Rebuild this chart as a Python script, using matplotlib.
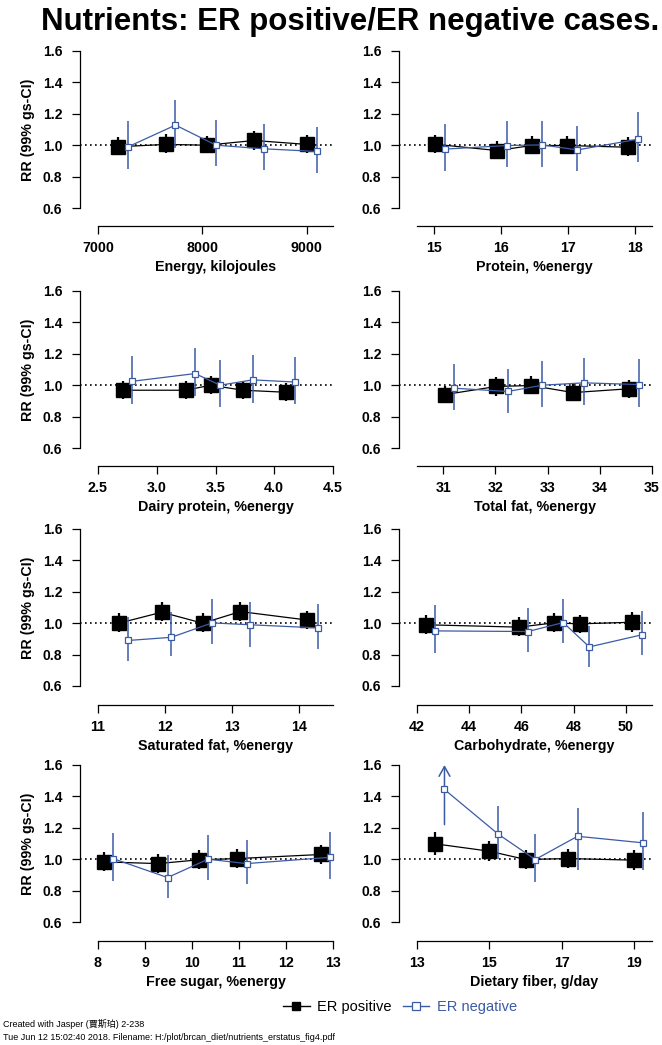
"""
Nutrients and breast cancer risk by ER status: RR with 99% gs-CI per fifth.
"""
import numpy as np
import matplotlib
matplotlib.use("Agg")
import matplotlib.pyplot as plt
from matplotlib.lines import Line2D

plt.rcParams["font.family"] = ["Liberation Sans", "DejaVu Sans"]

BLUE = "#3B5BA5"

# ── Data ─────────────────────────────────────────────────────────────────────
# ER positive: x, RR, lower, upper ; ER negative: same
energy_x_pos = [7192, 7650, 8040, 8494, 9000]
energy_rr_pos = [0.99, 1.005, 1.00, 1.03, 1.005]
energy_lo_pos = [0.94, 0.95, 0.95, 0.97, 0.95]
energy_hi_pos = [1.05, 1.07, 1.06, 1.09, 1.065]
energy_x_neg = [7288, 7742, 8130, 8590, 9096]
energy_rr_neg = [0.99, 1.128, 1.00, 0.977, 0.96]
energy_lo_neg = [0.85, 0.98, 0.866, 0.84, 0.823]
energy_hi_neg = [1.155, 1.29, 1.16, 1.134, 1.117]

protein_x_pos = [15.02, 15.94, 16.46, 16.99, 17.90]
protein_rr_pos = [1.006, 0.966, 0.998, 0.998, 0.987]
protein_lo_pos = [0.949, 0.913, 0.945, 0.945, 0.934]
protein_hi_pos = [1.068, 1.025, 1.057, 1.057, 1.05]
protein_x_neg = [15.16, 16.09, 16.61, 17.14, 18.04]
protein_rr_neg = [0.975, 0.998, 1.002, 0.97, 1.038]
protein_lo_neg = [0.834, 0.86, 0.864, 0.834, 0.89]
protein_hi_neg = [1.136, 1.157, 1.157, 1.12, 1.21]

dairy_x_pos = [2.714, 3.246, 3.46, 3.734, 4.10]
dairy_rr_pos = [0.968, 0.968, 1.00, 0.968, 0.955]
dairy_lo_pos = [0.915, 0.91, 0.947, 0.915, 0.90]
dairy_hi_pos = [1.028, 1.028, 1.06, 1.028, 1.015]
dairy_x_neg = [2.793, 3.326, 3.54, 3.816, 4.18]
dairy_rr_neg = [1.025, 1.074, 1.00, 1.034, 1.02]
dairy_lo_neg = [0.883, 0.932, 0.86, 0.887, 0.88]
dairy_hi_neg = [1.185, 1.236, 1.16, 1.19, 1.18]

fat_x_pos = [31.03, 32.02, 32.69, 33.49, 34.55]
fat_rr_pos = [0.94, 0.992, 0.998, 0.953, 0.977]
fat_lo_pos = [0.885, 0.934, 0.945, 0.898, 0.92]
fat_hi_pos = [0.998, 1.05, 1.057, 1.013, 1.036]
fat_x_neg = [31.2, 32.24, 32.9, 33.7, 34.76]
fat_rr_neg = [0.981, 0.96, 1.00, 1.015, 1.004]
fat_lo_neg = [0.845, 0.824, 0.86, 0.877, 0.86]
fat_hi_neg = [1.136, 1.104, 1.153, 1.174, 1.164]

satfat_x_pos = [11.31, 11.95, 12.56, 13.12, 14.12]
satfat_rr_pos = [1.00, 1.07, 1.00, 1.074, 1.02]
satfat_lo_pos = [0.943, 1.011, 0.943, 1.017, 0.964]
satfat_hi_pos = [1.062, 1.132, 1.062, 1.138, 1.08]
satfat_x_neg = [11.45, 12.09, 12.70, 13.27, 14.27]
satfat_rr_neg = [0.89, 0.91, 1.002, 0.99, 0.97]
satfat_lo_neg = [0.762, 0.788, 0.868, 0.85, 0.834]
satfat_hi_neg = [1.042, 1.07, 1.155, 1.138, 1.12]

carb_x_pos = [42.34, 45.91, 47.24, 48.23, 50.23]
carb_rr_pos = [0.99, 0.975, 1.002, 0.996, 1.006]
carb_lo_pos = [0.93, 0.919, 0.943, 0.936, 0.947]
carb_hi_pos = [1.053, 1.038, 1.062, 1.053, 1.07]
carb_x_neg = [42.69, 46.25, 47.6, 48.6, 50.61]
carb_rr_neg = [0.951, 0.947, 1.004, 0.849, 0.926]
carb_lo_neg = [0.809, 0.815, 0.873, 0.724, 0.798]
carb_hi_neg = [1.117, 1.096, 1.155, 0.985, 1.079]

sugar_x_pos = [8.12, 9.28, 10.14, 10.96, 12.74]
sugar_rr_pos = [0.983, 0.972, 0.996, 1.004, 1.03]
sugar_lo_pos = [0.926, 0.915, 0.94, 0.947, 0.972]
sugar_hi_pos = [1.047, 1.032, 1.057, 1.064, 1.09]
sugar_x_neg = [8.32, 9.48, 10.34, 11.16, 12.94]
sugar_rr_neg = [1.004, 0.883, 1.00, 0.972, 1.012]
sugar_lo_neg = [0.862, 0.756, 0.866, 0.841, 0.873]
sugar_hi_neg = [1.168, 1.025, 1.153, 1.121, 1.174]

fiber_x_pos = [13.5, 15.0, 16.01, 17.18, 19.0]
fiber_rr_pos = [1.098, 1.051, 0.998, 1.004, 0.994]
fiber_lo_pos = [1.025, 0.987, 0.94, 0.947, 0.93]
fiber_hi_pos = [1.174, 1.115, 1.057, 1.068, 1.057]
fiber_x_neg = [13.76, 15.25, 16.27, 17.44, 19.26]
fiber_rr_neg = [1.444, 1.159, 0.998, 1.146, 1.104]
fiber_lo_neg = [1.22, 1.004, 0.856, 0.93, 0.93]
fiber_hi_neg = [1.75, 1.34, 1.163, 1.323, 1.30]  # first upper limit is off the scale

# x-axis: label, axis span, tick positions, tick labels
xlabels = ["Energy, kilojoules", "Protein, %energy",
           "Dairy protein, %energy", "Total fat, %energy",
           "Saturated fat, %energy", "Carbohydrate, %energy",
           "Free sugar, %energy", "Dietary fiber, g/day"]
xspans = [(7000, 9250), (14.75, 18.25), (2.5, 4.5), (30.5, 35),
          (11, 14.5), (42, 51), (8, 13), (13, 19.5)]
xticks = [[7000, 8000, 9000], [15, 16, 17, 18],
          [2.5, 3.0, 3.5, 4.0, 4.5], [31, 32, 33, 34, 35],
          [11, 12, 13, 14], [42, 44, 46, 48, 50],
          [8, 9, 10, 11, 12, 13], [13, 15, 17, 19]]
xticklabels = [["7000", "8000", "9000"], ["15", "16", "17", "18"],
               ["2.5", "3.0", "3.5", "4.0", "4.5"], ["31", "32", "33", "34", "35"],
               ["11", "12", "13", "14"], ["42", "44", "46", "48", "50"],
               ["8", "9", "10", "11", "12", "13"], ["13", "15", "17", "19"]]
yticks = [0.6, 0.8, 1.0, 1.2, 1.4, 1.6]
yticklabels = ["0.6", "0.8", "1.0", "1.2", "1.4", "1.6"]

pos_series = [
    (energy_x_pos, energy_rr_pos, energy_lo_pos, energy_hi_pos),
    (protein_x_pos, protein_rr_pos, protein_lo_pos, protein_hi_pos),
    (dairy_x_pos, dairy_rr_pos, dairy_lo_pos, dairy_hi_pos),
    (fat_x_pos, fat_rr_pos, fat_lo_pos, fat_hi_pos),
    (satfat_x_pos, satfat_rr_pos, satfat_lo_pos, satfat_hi_pos),
    (carb_x_pos, carb_rr_pos, carb_lo_pos, carb_hi_pos),
    (sugar_x_pos, sugar_rr_pos, sugar_lo_pos, sugar_hi_pos),
    (fiber_x_pos, fiber_rr_pos, fiber_lo_pos, fiber_hi_pos),
]
neg_series = [
    (energy_x_neg, energy_rr_neg, energy_lo_neg, energy_hi_neg),
    (protein_x_neg, protein_rr_neg, protein_lo_neg, protein_hi_neg),
    (dairy_x_neg, dairy_rr_neg, dairy_lo_neg, dairy_hi_neg),
    (fat_x_neg, fat_rr_neg, fat_lo_neg, fat_hi_neg),
    (satfat_x_neg, satfat_rr_neg, satfat_lo_neg, satfat_hi_neg),
    (carb_x_neg, carb_rr_neg, carb_lo_neg, carb_hi_neg),
    (sugar_x_neg, sugar_rr_neg, sugar_lo_neg, sugar_hi_neg),
    (fiber_x_neg, fiber_rr_neg, fiber_lo_neg, fiber_hi_neg),
]

# ── Layout (pixels of a 662 x 1045 canvas) ───────────────────────────────────
W, H = 662, 1045
COL_LEFT = [80, 399]
COL_RIGHT = [333, 652]
ROW_TOP = [51, 291, 529, 765]      # pixel row of RR = 1.6
ROW_AXIS = [226, 466, 705, 941]    # pixel row of the x-axis line
PX_PER_UNIT_Y = 157
GAP = 18                           # gap between plot edge and axis start
YMIN, YMAX = 0.6, 1.6

fig = plt.figure(figsize=(W / 100, H / 100), dpi=100)

for i in range(8):
    r, c = divmod(i, 2)
    left, right = COL_LEFT[c], COL_RIGHT[c]
    top_px = ROW_TOP[r] - 8
    bot_px = ROW_AXIS[r]
    ax = fig.add_axes([left / W, 1 - bot_px / H, (right - left) / W, (bot_px - top_px) / H])

    a, b = xspans[i]
    ax.set_xlim(a - (b - a) * GAP / (right - left - GAP), b)
    ylo = YMIN - (bot_px - (ROW_TOP[r] + PX_PER_UNIT_Y)) / PX_PER_UNIT_Y
    ax.set_ylim(ylo, YMAX + 8 / PX_PER_UNIT_Y)

    ax.axhline(1.0, color="black", lw=1.2, ls=(0, (1, 2)), zorder=1)

    # ER positive
    x, rr, lo, hi = pos_series[i]
    ax.vlines(x, lo, hi, color="black", lw=1.6, zorder=2)
    ax.plot(x, rr, "-", color="black", lw=0.9, marker="s", ms=9.4,
            mfc="black", mec="black", zorder=3)

    # ER negative (upper limits beyond the scale shown as arrows)
    x, rr, lo, hi = neg_series[i]
    for xi, l, h in zip(x, lo, hi):
        if h > YMAX:
            ax.annotate("", xy=(xi, YMAX), xytext=(xi, l), annotation_clip=False,
                        arrowprops=dict(arrowstyle="->,head_length=0.5,head_width=0.28",
                                        color=BLUE, lw=1.1, mutation_scale=14,
                                        shrinkA=0, shrinkB=0))
        else:
            ax.vlines(xi, l, h, color=BLUE, lw=1.1, zorder=4)
    ax.plot(x, rr, "-", color=BLUE, lw=0.9, marker="s", ms=4,
            mfc="white", mec=BLUE, mew=0.9, zorder=5, clip_on=False)

    for s in ["top", "right"]:
        ax.spines[s].set_visible(False)
    ax.spines["left"].set_bounds(YMIN, YMAX)
    ax.spines["bottom"].set_bounds(a, b)
    for s in ["left", "bottom"]:
        ax.spines[s].set_linewidth(0.9)

    ax.set_yticks(yticks)
    ax.set_yticklabels(yticklabels, fontsize=10, fontweight="bold")
    ax.set_xticks(xticks[i])
    ax.set_xticklabels(xticklabels[i], fontsize=10.3, fontweight="bold")
    ax.tick_params(axis="both", length=5.8, width=0.9, pad=5)
    ax.tick_params(axis="y", pad=7)

    ax.set_xlabel(xlabels[i], fontsize=10.3, fontweight="bold")
    ax.xaxis.set_label_coords((left + GAP + (right - left - GAP) / 2 - left) / (right - left),
                              -41 / (bot_px - top_px))
    ax.xaxis.label.set_va("center")
    if c == 0:
        ax.set_ylabel("RR (99% gs-CI)", fontsize=10.3, fontweight="bold")
        ax.yaxis.set_label_coords(-52 / (right - left),
                                  (bot_px - (ROW_TOP[r] + PX_PER_UNIT_Y / 2)) / (bot_px - top_px))
        ax.yaxis.label.set_va("center")

fig.text(350 / W, 1 - 30 / H, "Nutrients: ER positive/ER negative cases.",
         fontsize=22.5, fontweight="bold", ha="center", va="baseline")

handles = [
    Line2D([], [], color="black", lw=1, marker="s", ms=6, mfc="black", mec="black"),
    Line2D([], [], color=BLUE, lw=1, marker="s", ms=5.5, mfc="white", mec=BLUE, mew=0.9),
]
fig.legend(handles, ["ER positive", "ER negative"], loc="center",
           bbox_to_anchor=(400 / W, 1 - 1007 / H), ncol=2, frameon=False,
           fontsize=10.5, handlelength=1.8, handletextpad=0.5, columnspacing=0.8,
           labelcolor=["black", BLUE])

footer_family = ["Liberation Sans", "Noto Sans CJK TC"]
fig.text(3 / W, 1 - 1024 / H, "Created with Jasper (賈斯珀) 2-238",
         fontsize=6.5, family=footer_family, va="center")
fig.text(3 / W, 1 - 1037 / H,
         "Tue Jun 12 15:02:40 2018. Filename: H:/plot/brcan_diet/nutrients_erstatus_fig4.pdf",
         fontsize=6.5, family=footer_family, va="center")

fig.savefig("out.png", dpi=100)
